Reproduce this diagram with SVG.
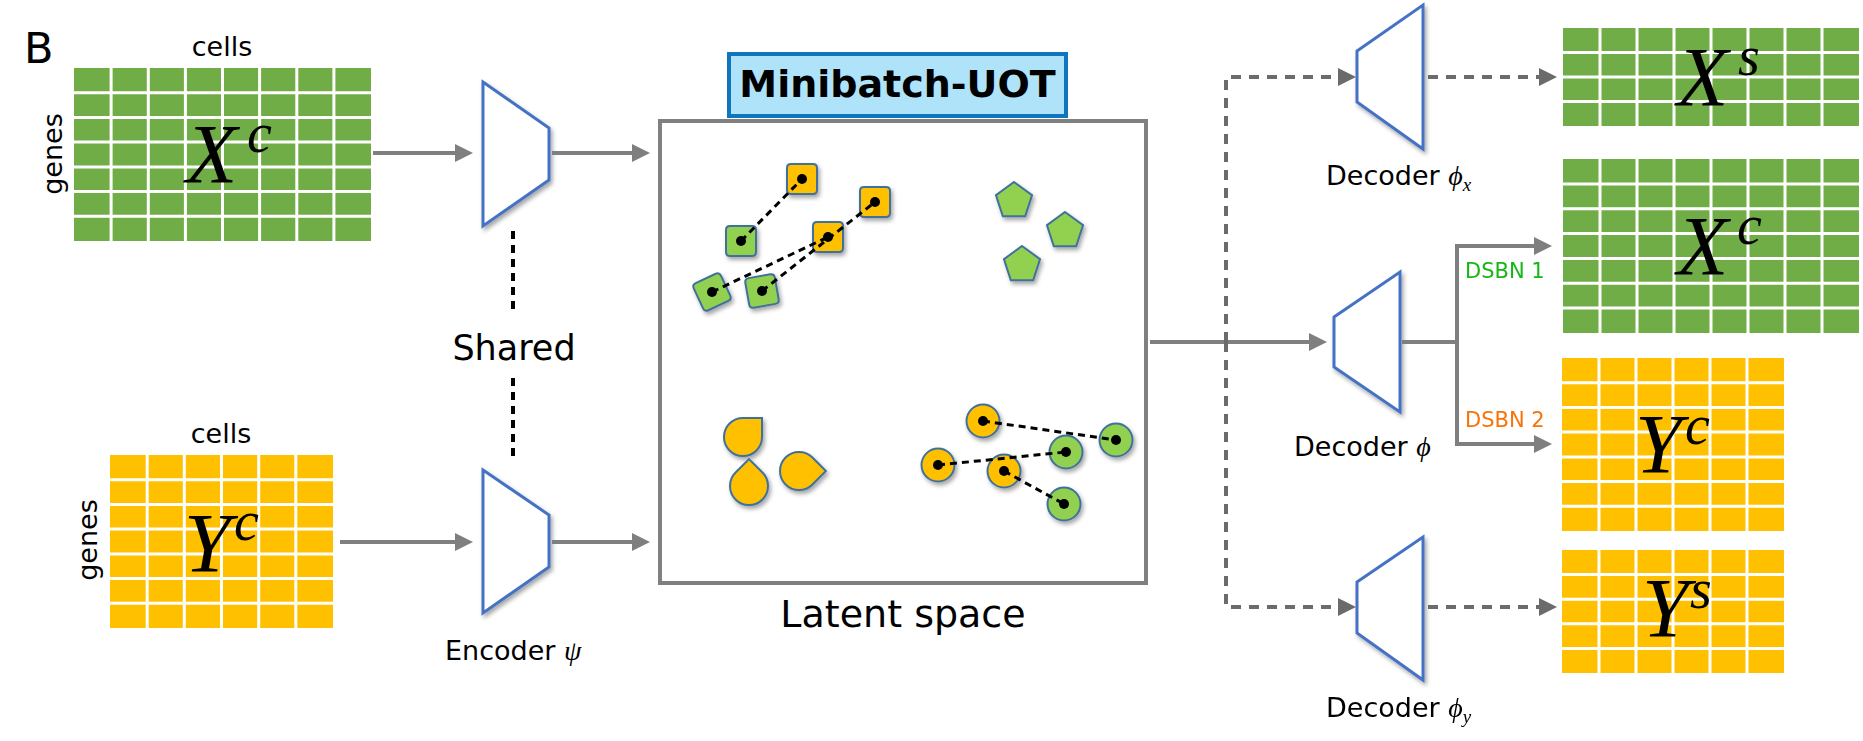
<svg xmlns="http://www.w3.org/2000/svg" width="1863" height="741" viewBox="0 0 1863 741">
<defs>
<style>
.sans{font-family:"DejaVu Sans","Liberation Sans",sans-serif;fill:#000}
.lbl{font-size:27px}
.math{font-family:"Liberation Serif","DejaVu Serif",serif;font-style:italic;fill:#000}
.big{font-size:84px}
.sup{font-size:56px}
.gm{fill:#70AD47}
.ym{fill:#FFC000}
.grid{stroke:#fff;stroke-width:3;fill:none}
.trap{fill:#fff;stroke:#4472C4;stroke-width:3;stroke-linejoin:miter;filter:url(#sh)}
.conn{fill:none;stroke:#7F7F7F;stroke-width:4}
.dconn{fill:none;stroke:#6B6B6B;stroke-width:4;stroke-dasharray:10 8}
.shared{fill:none;stroke:#000;stroke-width:4;stroke-dasharray:8 6}
.pts{stroke:#41719C;stroke-width:2;filter:url(#sh)}
.og{fill:#FFC000}
.gg{fill:#92D050}
.ot{fill:none;stroke:#000;stroke-width:3;stroke-dasharray:7 5}
</style>
<filter id="sh" x="-30%" y="-30%" width="160%" height="160%">
<feDropShadow dx="2" dy="3" stdDeviation="2" flood-color="#000" flood-opacity="0.35"/>
</filter>
<marker id="ah" viewBox="0 0 18 18" refX="8" refY="9" markerWidth="18" markerHeight="18" markerUnits="userSpaceOnUse" orient="auto">
<path d="M0,0 L18,9 L0,18 Z" fill="#7F7F7F"/>
</marker>
<marker id="ahd" viewBox="0 0 18 18" refX="8" refY="9" markerWidth="18" markerHeight="18" markerUnits="userSpaceOnUse" orient="auto">
<path d="M0,0 L18,9 L0,18 Z" fill="#6B6B6B"/>
</marker>
<path id="sq" d="M-15,-11 Q-15,-15 -11,-15 H11 Q15,-15 15,-11 V11 Q15,15 11,15 H-11 Q-15,15 -15,11 Z"/>
<path id="pent" d="M0,-19 L18.07,-5.87 L11.17,15.37 L-11.17,15.37 L-18.07,-5.87 Z"/>
<path id="drop" d="M0,-19 H19 V0 A19,19 0 0 1 0,19 A19,19 0 0 1 -19,0 A19,19 0 0 1 0,-19 Z"/>
</defs>
<rect width="1863" height="741" fill="#fff"/>

<g id="panel-label"><text class="sans" x="24" y="63" font-size="43">B</text></g>

<g id="matrix-Xc-in">
<rect class="gm" x="74" y="68" width="297" height="173"/>
<path class="grid" d="M111.1,68V241M148.3,68V241M185.4,68V241M222.5,68V241M259.6,68V241M296.8,68V241M333.9,68V241M74,92.7H371M74,117.4H371M74,142.1H371M74,166.9H371M74,191.6H371M74,216.3H371"/>
<text class="math big" x="186" y="183">X<tspan class="sup" x="247" y="152">c</tspan></text>
<text class="sans lbl" x="222" y="56" text-anchor="middle">cells</text>
<text class="sans lbl" transform="translate(62,154) rotate(-90)" text-anchor="middle">genes</text>
</g>

<g id="matrix-Yc-in">
<rect class="ym" x="110" y="455" width="223" height="173"/>
<path class="grid" d="M147.2,455V628M184.3,455V628M221.5,455V628M258.7,455V628M295.8,455V628M110,479.7H333M110,504.4H333M110,529.1H333M110,553.9H333M110,578.6H333M110,603.3H333"/>
<text class="math big" x="184" y="572">Y<tspan class="sup" x="234" y="540">c</tspan></text>
<text class="sans lbl" x="221" y="443" text-anchor="middle">cells</text>
<text class="sans lbl" transform="translate(97,540) rotate(-90)" text-anchor="middle">genes</text>
</g>

<g id="encoder">
<path class="trap" d="M483,82 L549,128 L549,180 L483,226 Z"/>
<path class="trap" d="M483,470 L549,515 L549,567 L483,613 Z"/>
<text class="sans lbl" x="445" y="660">Encoder <tspan class="math" font-size="28">ψ</tspan></text>
</g>

<g id="shared">
<path class="shared" d="M513,231V312M513,378V462"/>
<text class="sans" x="514" y="360" font-size="35" text-anchor="middle">Shared</text>
</g>

<g id="minibatch-uot">
<rect x="729" y="54" width="337" height="62" fill="#AEE3FA" stroke="#0F75BC" stroke-width="4"/>
<text class="sans" x="897.5" y="97" font-size="38" font-weight="bold" text-anchor="middle">Minibatch-UOT</text>
</g>

<g id="latent-space">
<rect x="660" y="121" width="486" height="462" fill="#fff" stroke="#808080" stroke-width="4"/>
<text class="sans" x="903" y="627" font-size="38" text-anchor="middle">Latent space</text>
<g class="pts">
<use href="#sq" class="og" transform="translate(802,179)"/>
<use href="#sq" class="og" transform="translate(875,202)"/>
<use href="#sq" class="og" transform="translate(828,237)"/>
<use href="#sq" class="gg" transform="translate(741,241)"/>
<use href="#sq" class="gg" transform="translate(712,292) rotate(-25)"/>
<use href="#sq" class="gg" transform="translate(762,291) rotate(-10)"/>
<use href="#pent" class="gg" transform="translate(1014,201)"/>
<use href="#pent" class="gg" transform="translate(1065,231)"/>
<use href="#pent" class="gg" transform="translate(1022,265)"/>
<use href="#drop" class="og" transform="translate(743,437)"/>
<use href="#drop" class="og" transform="translate(749,486) rotate(-45)"/>
<use href="#drop" class="og" transform="translate(799,471) rotate(45)"/>
<circle class="og" cx="983" cy="421" r="16.5"/>
<circle class="og" cx="938" cy="465" r="16.5"/>
<circle class="og" cx="1004" cy="471" r="16.5"/>
<circle class="gg" cx="1116" cy="440" r="16.5"/>
<circle class="gg" cx="1066" cy="452" r="16.5"/>
<circle class="gg" cx="1064" cy="504" r="16.5"/>
</g>
<path class="ot" d="M741,241L802,179M762,291L875,202M712,292L828,237M983,421L1116,440M938,465L1066,452M1004,471L1064,504"/>
<g fill="#000">
<circle cx="802" cy="179" r="5"/><circle cx="875" cy="202" r="5"/><circle cx="828" cy="237" r="5"/>
<circle cx="741" cy="241" r="5"/><circle cx="712" cy="292" r="5"/><circle cx="762" cy="291" r="5"/>
<circle cx="983" cy="421" r="5"/><circle cx="938" cy="465" r="5"/><circle cx="1004" cy="471" r="5"/>
<circle cx="1116" cy="440" r="5"/><circle cx="1066" cy="452" r="5"/><circle cx="1064" cy="504" r="5"/>
</g>
</g>

<g id="decoder-x">
<path class="trap" d="M1357,51 L1423,5 L1423,149 L1357,102 Z"/>
<text class="sans lbl" x="1326" y="185">Decoder <tspan class="math" font-size="28">ϕ</tspan><tspan class="math" font-size="19" dy="6">x</tspan></text>
</g>

<g id="decoder">
<path class="trap" d="M1334,317 L1400,272 L1400,412 L1334,367 Z"/>
<text class="sans lbl" x="1294" y="456">Decoder <tspan class="math" font-size="28">ϕ</tspan></text>
</g>

<g id="decoder-y">
<path class="trap" d="M1357,582 L1423,537 L1423,680 L1357,633 Z"/>
<text class="sans lbl" x="1326" y="717">Decoder <tspan class="math" font-size="28">ϕ</tspan><tspan class="math" font-size="19" dy="6">y</tspan></text>
</g>

<g id="matrix-Xs-out">
<rect class="gm" x="1563" y="28" width="296" height="98"/>
<path class="grid" d="M1600,28V126M1637,28V126M1674,28V126M1711,28V126M1748,28V126M1785,28V126M1822,28V126M1563,52.5H1859M1563,77H1859M1563,101.5H1859"/>
<text class="math big" x="1677" y="106">X<tspan class="sup" x="1738" y="75">s</tspan></text>
</g>

<g id="matrix-Xc-out">
<rect class="gm" x="1563" y="159" width="296" height="174"/>
<path class="grid" d="M1600,159V333M1637,159V333M1674,159V333M1711,159V333M1748,159V333M1785,159V333M1822,159V333M1563,183.9H1859M1563,208.7H1859M1563,233.6H1859M1563,258.4H1859M1563,283.3H1859M1563,308.1H1859"/>
<text class="math big" x="1677" y="275">X<tspan class="sup" x="1737" y="244">c</tspan></text>
</g>

<g id="matrix-Yc-out">
<rect class="ym" x="1562" y="358" width="222" height="173"/>
<path class="grid" d="M1599,358V531M1636,358V531M1673,358V531M1710,358V531M1747,358V531M1562,382.7H1784M1562,407.4H1784M1562,432.1H1784M1562,456.9H1784M1562,481.6H1784M1562,506.3H1784"/>
<text class="math big" x="1635" y="473">Y<tspan class="sup" x="1685" y="444">c</tspan></text>
</g>

<g id="matrix-Ys-out">
<rect class="ym" x="1562" y="550" width="222" height="123"/>
<path class="grid" d="M1599,550V673M1636,550V673M1673,550V673M1710,550V673M1747,550V673M1562,574.6H1784M1562,599.2H1784M1562,623.8H1784M1562,648.4H1784"/>
<text class="math big" x="1642" y="637">Y<tspan class="sup" x="1690" y="608">s</tspan></text>
</g>

<g id="connectors">
<path class="conn" d="M373,153H463" marker-end="url(#ah)"/>
<path class="conn" d="M552,153H640" marker-end="url(#ah)"/>
<path class="conn" d="M340,542H463" marker-end="url(#ah)"/>
<path class="conn" d="M552,542H640" marker-end="url(#ah)"/>
<path class="conn" d="M1150,342H1317" marker-end="url(#ah)"/>
<path class="conn" stroke="#6E6E6E" d="M1402,342H1457"/>
<path class="conn" stroke="#6E6E6E" d="M1457,342V246H1542" marker-end="url(#ah)"/>
<path class="conn" stroke="#6E6E6E" d="M1457,342V444H1542" marker-end="url(#ah)"/>
<path class="dconn" d="M1226,342V77H1346" marker-end="url(#ahd)"/>
<path class="dconn" d="M1226,342V607H1346" marker-end="url(#ahd)"/>
<path class="dconn" d="M1428,77H1547" marker-end="url(#ahd)"/>
<path class="dconn" d="M1428,607H1547" marker-end="url(#ahd)"/>
<text class="sans" x="1465" y="278" font-size="21" style="fill:#14B814">DSBN 1</text>
<text class="sans" x="1465" y="427" font-size="21" style="fill:#F97306">DSBN 2</text>
</g>
</svg>
